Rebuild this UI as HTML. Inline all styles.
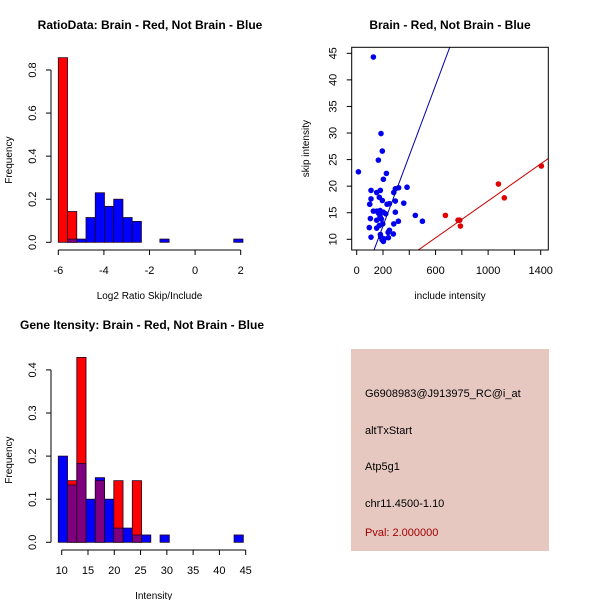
<!DOCTYPE html>
<html><head><meta charset="utf-8"><style>
html,body{margin:0;padding:0;background:#fff;}
svg{display:block;font-family:"Liberation Sans",sans-serif;}
</style></head><body>
<svg id="chart" width="600" height="600" viewBox="0 0 600 600">
<rect x="0" y="0" width="600" height="600" fill="#fff"/>
<g id="p1"></g>
<g id="p2"></g>
<g id="p3"></g>
<g>
<rect x="351" y="349" width="198" height="202" fill="#e6c8c1"/>
<text x="365" y="397" font-size="11" fill="#000">G6908983@J913975_RC@i_at</text>
<text x="365" y="434" font-size="11" fill="#000">altTxStart</text>
<text x="365" y="470" font-size="11" fill="#000">Atp5g1</text>
<text x="365" y="507" font-size="11" fill="#000">chr11.4500-1.10</text>
<text x="365" y="536" font-size="11" fill="#a00000">Pval: 2.000000</text>
</g>
</svg>
<script>
// Plot 1: ratio histogram
const ratioBinStart = -6.0;
const ratioBinWidth = 0.405;
const ratioRed = [0.857, 0.143, 0, 0, 0, 0, 0, 0, 0, 0, 0, 0, 0, 0, 0, 0, 0, 0, 0, 0];
const ratioBlue = [0, 0.015, 0.015, 0.115, 0.23, 0.167, 0.2, 0.115, 0.097, 0, 0, 0.015, 0, 0, 0, 0, 0, 0, 0, 0.015];
const ratioXTicks = [-6, -4, -2, 0, 2];
const ratioYTicks = [0.0, 0.2, 0.4, 0.6, 0.8];

// Plot 3: intensity histogram
const intBinStart = 9.35;
const intBinWidth = 1.76;
const intRed = [0, 0.143, 0.429, 0, 0.143, 0, 0.143, 0, 0.143, 0, 0, 0, 0, 0, 0, 0, 0, 0, 0, 0];
const intBlue = [0.2, 0.133, 0.183, 0.1, 0.15, 0.1, 0.033, 0.033, 0.017, 0.017, 0, 0.017, 0, 0, 0, 0, 0, 0, 0, 0.017];
const intXTicks = [10, 15, 20, 25, 30, 35, 40, 45];
const intYTicks = [0.0, 0.1, 0.2, 0.3, 0.4];

// Plot 2: scatter
const blueInclude = [127,13,185,195,165,226,203,109,152,180,109,99,172,195,294,319,383,282,294,231,249,358,127,152,178,203,167,221,294,446,500,317,152,188,104,178,198,282,96,152,172,249,239,109,183,208,203,241,279,180,193];
const blueSkip = [44.3,22.7,29.9,26.6,24.9,22.4,21.3,19.2,18.8,19.2,17.6,16.6,17.9,17.3,19.5,19.7,19.8,18.8,17.2,16.6,16.7,16.8,15.3,15.3,15.4,15.1,14.9,14.8,15.1,14.5,13.4,13.4,13.6,13.8,13.9,14.3,12.9,12.9,12.2,12.1,12.6,11.7,11.3,10.4,10.5,10.1,9.6,10.3,11.0,10.9,9.9];
const redInclude = [675,771,784,789,1078,1123,1405];
const redSkip = [14.5,13.6,13.6,12.5,20.4,17.8,23.8];
const blueFit = [-0.74, 0.0662];
const redFit = [-0.16, 0.01739];
const scatXTicks = [0, 200, 600, 1000, 1400];
const scatXMinor = [400, 800, 1200];
const scatYTicks = [10, 15, 20, 25, 30, 35, 40, 45];

const NS = 'http://www.w3.org/2000/svg';
function mk(parent, tag, attrs, name){
  const e = document.createElementNS(NS, tag);
  for (const k in attrs) e.setAttribute(k, attrs[k]);
  
  
  parent.appendChild(e);
  return e;
}
function txt(parent, x, y, s, opts, name){
  const t = mk(parent, 'text', Object.assign({x:x, y:y, 'font-size':11, fill:'#000', 'text-anchor':'middle'}, opts||{}), name);
  t.textContent = s;
  return t;
}

function histogram(g, o){
  const sx = v => o.x0 + (v - o.xv0) * o.kx;
  const sy = v => o.y0 - v * o.ky;
  for (let i = 0; i < o.red.length; i++) {
    const a = o.start + i * o.width, b = a + o.width;
    const r = o.red[i], bl = o.blue[i];
    const x = sx(a), w = sx(b) - sx(a);
    const hi = Math.max(r, bl), lo = Math.min(r, bl);
    if (hi > 0) {
      const col = r >= bl ? '#ff0000' : '#0000ff';
      mk(g, 'rect', {x:x, y:sy(hi), width:w, height:sy(0)-sy(hi), fill:col, stroke:'#200020', 'stroke-width':0.8}, 'bar-' + (r >= bl ? 'red-' : 'blue-') + i);
    }
    if (lo > 0) {
      mk(g, 'rect', {x:x, y:sy(lo), width:w, height:sy(0)-sy(lo), fill:'#7f007f', stroke:'#200020', 'stroke-width':0.8}, 'bar-overlap-' + i);
    }
  }
  const ya = mk(g, 'g', {}, 'y-axis');
  mk(ya, 'line', {x1:o.axX, x2:o.axX, y1:sy(o.yt[0]), y2:sy(o.yt[o.yt.length-1]), stroke:'#000'}, 'y-axis-line');
  o.yt.forEach(v => {
    mk(ya, 'line', {x1:o.axX-5, x2:o.axX, y1:sy(v), y2:sy(v), stroke:'#000'}, 'y-tick');
    txt(ya, 0, 0, v.toFixed(1), {transform:`translate(${o.axX-15},${sy(v)}) rotate(-90)`}, 'y-tick-label');
  });
  txt(ya, 0, 0, 'Frequency', {transform:`translate(${12},${(sy(0)+sy(o.yt[o.yt.length-1]))/2 + 4}) rotate(-90)`, 'font-size':10}, 'y-axis-title');
  const xa = mk(g, 'g', {}, 'x-axis');
  mk(xa, 'line', {x1:sx(o.xt[0]), x2:sx(o.xt[o.xt.length-1]), y1:o.axY, y2:o.axY, stroke:'#000'}, 'x-axis-line');
  o.xt.forEach(v => {
    mk(xa, 'line', {x1:sx(v), x2:sx(v), y1:o.axY, y2:o.axY+5, stroke:'#000'}, 'x-tick');
    txt(xa, sx(v), o.axY+24, String(v), {}, 'x-tick-label');
  });
  txt(xa, (sx(o.xt[0])+sx(o.xt[o.xt.length-1]))/2, o.axY+49, o.xlab, {'font-size':10}, 'x-axis-title');
  txt(g, o.titleX, o.titleY, o.title, {'font-weight':'bold', 'font-size':12}, 'chart-title');
}

histogram(document.getElementById('p1'), {
  red: ratioRed, blue: ratioBlue, start: ratioBinStart, width: ratioBinWidth,
  x0: 58.3, xv0: -6, kx: 22.8, y0: 242.3, ky: 215.4,
  axX: 51, axY: 250, xt: ratioXTicks, yt: ratioYTicks,
  xlab: 'Log2 Ratio Skip/Include', title: 'RatioData: Brain - Red, Not Brain - Blue', titleX: 150, titleY: 29
});
histogram(document.getElementById('p3'), {
  red: intRed, blue: intBlue, start: intBinStart, width: intBinWidth,
  x0: 61.7, xv0: 10, kx: 5.257, y0: 542.3, ky: 431,
  axX: 51, axY: 550, xt: intXTicks, yt: intYTicks,
  xlab: 'Intensity', title: 'Gene Itensity: Brain - Red, Not Brain - Blue', titleX: 142, titleY: 329
});

(function(){
  const g = document.getElementById('p2');
  const L = 351.7, R = 548.3, T = 47.3, B = 250;
  const sx = v => 356.7 + v * (184/1400);
  const sy = v => 239.3 - (v - 10) * 5.314;
  const xmin = (L - 356.7) / (184/1400), xmax = (R - 356.7) / (184/1400);
  const defs = mk(g, 'defs', {}, 'defs');
  const cp = mk(defs, 'clipPath', {id:'clip2'}, 'plot-clip');
  mk(cp, 'rect', {x:L, y:T, width:R-L, height:B-T}, 'clip-rect');
  const pts = mk(g, 'g', {'clip-path':'url(#clip2)'}, 'points');
  for (let i = 0; i < blueInclude.length; i++)
    mk(pts, 'circle', {cx:sx(blueInclude[i]), cy:sy(blueSkip[i]), r:2.8, fill:'#0000ee'}, 'point-blue');
  for (let i = 0; i < redInclude.length; i++)
    mk(pts, 'circle', {cx:sx(redInclude[i]), cy:sy(redSkip[i]), r:2.8, fill:'#e00000'}, 'point-red');
  mk(pts, 'line', {x1:sx(xmin), y1:sy(blueFit[0]+blueFit[1]*xmin), x2:sx(xmax), y2:sy(blueFit[0]+blueFit[1]*xmax), stroke:'#0000aa', 'stroke-width':1}, 'blue-fit-line');
  mk(pts, 'line', {x1:sx(xmin), y1:sy(redFit[0]+redFit[1]*xmin), x2:sx(xmax), y2:sy(redFit[0]+redFit[1]*xmax), stroke:'#cc0000', 'stroke-width':1}, 'red-fit-line');
  mk(g, 'rect', {x:L, y:T, width:R-L, height:B-T, fill:'none', stroke:'#000'}, 'plot-frame');
  scatYTicks.forEach(v => {
    mk(g, 'line', {x1:L-5, x2:L, y1:sy(v), y2:sy(v), stroke:'#000'}, 'y-tick');
    txt(g, 0, 0, String(v), {transform:`translate(${L-15},${sy(v)}) rotate(-90)`}, 'y-tick-label');
  });
  scatXTicks.concat(scatXMinor).forEach(v => mk(g, 'line', {x1:sx(v), x2:sx(v), y1:B, y2:B+5, stroke:'#000'}, 'x-tick'));
  scatXTicks.forEach(v => txt(g, sx(v), B+24, String(v), {}, 'x-tick-label'));
  txt(g, 0, 0, 'skip intensity', {transform:`translate(309,${(T+B)/2}) rotate(-90)`, 'font-size':10}, 'y-axis-title');
  txt(g, (L+R)/2, 299, 'include intensity', {'font-size':10}, 'x-axis-title');
  txt(g, 450, 29, 'Brain - Red, Not Brain - Blue', {'font-weight':'bold', 'font-size':12}, 'chart-title');
})();
</script>
</body></html>
